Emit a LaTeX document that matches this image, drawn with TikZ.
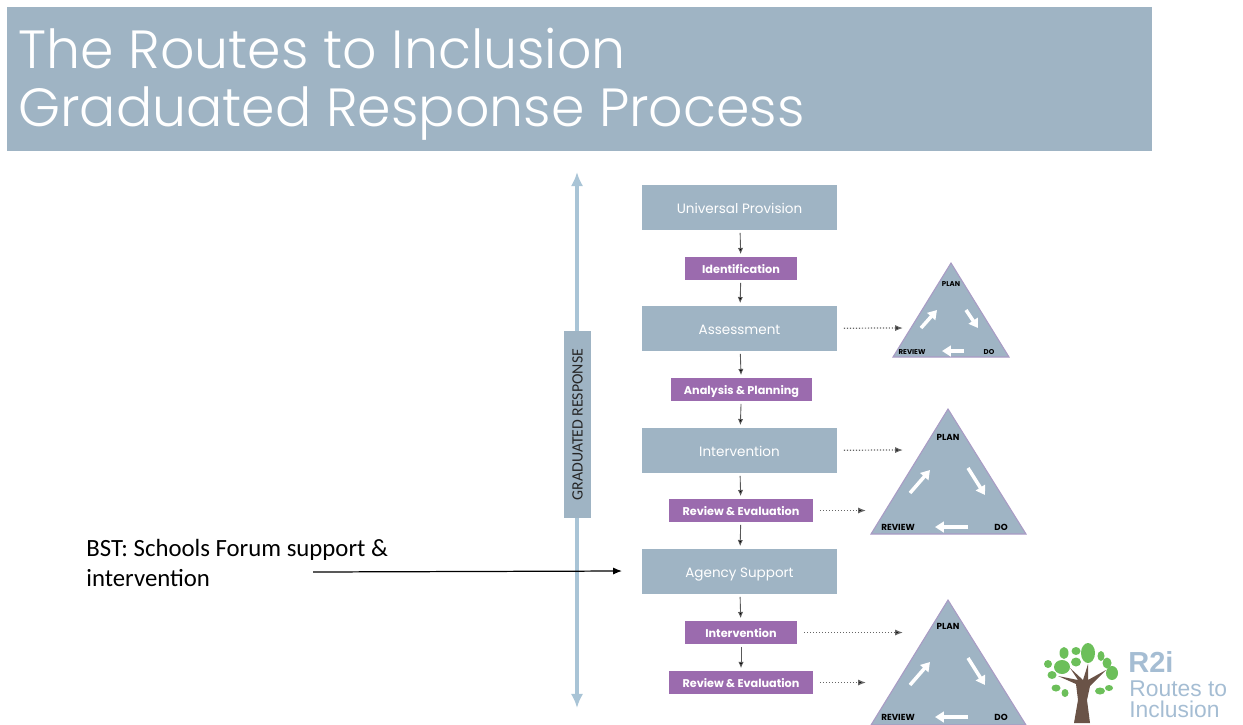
\documentclass[tikz,border=0pt]{standalone}
\usepackage{fontspec}
\setmainfont{Poppins}
\newfontfamily\titlefont{Poppins Light}
\newfontfamily\bstfont{Carlito}
\newfontfamily\logofont{Liberation Sans}
\usetikzlibrary{arrows.meta}
\definecolor{slate}{HTML}{9FB4C4}
\definecolor{axisblue}{HTML}{A9C4D6}
\definecolor{plum}{HTML}{9B6BAE}
\definecolor{lilac}{HTML}{A99BC4}
\definecolor{logoblue}{HTML}{A5BDD3}
\definecolor{bark}{HTML}{6A5347}
\definecolor{leaf}{HTML}{6CBF5A}
\tikzset{
  stagebox/.style={rectangle, fill=slate, text=white, minimum width=110.5pt, minimum height=25.5pt, inner sep=0pt, text height=7.4pt, text depth=1pt, font=\fontsize{7.7}{9}\selectfont},
  actionbox/.style={rectangle, fill=plum, text=white, minimum height=13pt, inner sep=0pt, text height=6.6pt, text depth=0.6pt, font=\bfseries\fontsize{6.4}{8}\selectfont},
  flow/.style={-{Latex[length=3.5pt,width=3pt]}, draw=black!65, line width=0.5pt, shorten >=1.5pt, shorten <=1.5pt},
  feed/.style={-{Latex[length=4.5pt,width=3.5pt]}, draw=black!60, densely dotted, line width=0.7pt, shorten <=4pt},
  tri/.style={fill=slate, draw=lilac, line width=0.6pt},
  turn/.style={-{Triangle[length=5pt,width=6pt]}, draw=white, line width=2pt},
  trilabel/.style={text=black, inner sep=0pt, font=\bfseries\fontsize{4}{5}\selectfont},
  trilabelbig/.style={text=black, inner sep=0pt, font=\bfseries\fontsize{5}{6}\selectfont},
  titleline/.style={anchor=base west, text=white, inner sep=0pt, font=\titlefont\fontsize{30.6}{33}\selectfont},
  leafy/.style={fill=leaf},
}
\begin{document}
\begin{tikzpicture}[x=0.02cm, y=-0.02cm]
\useasboundingbox (0,0) rectangle (1243,724);
% title
\node[rectangle, fill=slate, minimum width=22.9cm, minimum height=2.88cm, inner sep=0pt] (banner) at (579.5,79) {};
\node[titleline] (title1) at (18,68) {The Routes to Inclusion};
\node[titleline] (title2) at (18,126) {Graduated Response Process};
% axis
\coordinate (axistop) at (577,172);
\coordinate (axisbottom) at (577,708);
\draw[{Latex[length=8pt,width=7pt]}-{Latex[length=8pt,width=7pt]}, axisblue, line width=2.4pt] (axistop) -- (axisbottom);
\node[rectangle, fill=slate, minimum width=106pt, minimum height=15.3pt, inner sep=0pt, rotate=90, text=black!85, font=\bstfont\fontsize{9}{10}\selectfont] (graduated) at (577.5,424.5) {GRADUATED RESPONSE};
% boxes
\node[stagebox] (universal) at (739.5,207.5) {Universal Provision};
\node[actionbox, minimum width=63.5pt] (identification) at (741,268.5) {Identification};
\node[stagebox] (assessment) at (739.5,328.5) {Assessment};
\node[actionbox, minimum width=80pt] (analysis) at (741.5,389.5) {Analysis \& Planning};
\node[stagebox] (intervention) at (739.5,450.5) {Intervention};
\node[actionbox, minimum width=81.5pt] (review1) at (741,510.5) {Review \& Evaluation};
\node[stagebox] (agency) at (739.5,571.5) {Agency Support};
\node[actionbox, minimum width=63.5pt] (intervention2) at (741,632.5) {Intervention};
\node[actionbox, minimum width=81.5pt] (review2) at (741,682.5) {Review \& Evaluation};
\path [flow] (universal) edge (identification);
\path [flow] (identification) edge (assessment);
\path [flow] (assessment) edge (analysis);
\path [flow] (analysis) edge (intervention);
\path [flow] (intervention) edge (review1);
\path [flow] (review1) edge (agency);
\path [flow] (agency) edge (intervention2);
\path [flow] (intervention2) edge (review2);
% small triangle
\coordinate (planA) at (951,263);
\coordinate (doA) at (1009,357);
\coordinate (reviewA) at (893,357);
\draw[tri] (planA) -- (doA) -- (reviewA) -- cycle;
\node[trilabel] (planAtext) at (951,284) {PLAN};
\node[trilabel] (reviewAtext) at (912,352) {REVIEW};
\node[trilabel] (doAtext) at (989,352) {DO};
\coordinate (upAs) at (921,328); \coordinate (upAe) at (937,310);
\coordinate (downAs) at (966,310); \coordinate (downAe) at (978,328);
\coordinate (backAs) at (964,351); \coordinate (backAe) at (942,351);
\draw[turn] (upAs) -- (upAe);
\draw[turn] (downAs) -- (downAe);
\draw[turn] (backAs) -- (backAe);
% middle triangle
\coordinate (planB) at (948,409);
\coordinate (doB) at (1026,534);
\coordinate (reviewB) at (871,534);
\draw[tri] (planB) -- (doB) -- (reviewB) -- cycle;
\node[trilabelbig] (planBtext) at (948,437) {PLAN};
\node[trilabelbig] (reviewBtext) at (898,527) {REVIEW};
\node[trilabelbig] (doBtext) at (1001,527) {DO};
\coordinate (upBs) at (910,493); \coordinate (upBe) at (930,470);
\coordinate (downBs) at (968,468); \coordinate (downBe) at (985,495);
\coordinate (backBs) at (968,527); \coordinate (backBe) at (935,527);
\draw[turn] (upBs) -- (upBe);
\draw[turn] (downBs) -- (downBe);
\draw[turn] (backBs) -- (backBe);
% bottom triangle
\coordinate (planC) at (948,600);
\coordinate (doC) at (1026,725);
\coordinate (reviewC) at (871,725);
\draw[tri] (planC) -- (doC) -- (reviewC) -- cycle;
\node[trilabelbig] (planCtext) at (948,626) {PLAN};
\node[trilabelbig] (reviewCtext) at (898,717) {REVIEW};
\node[trilabelbig] (doCtext) at (1001,717) {DO};
\coordinate (upCs) at (910,685); \coordinate (upCe) at (930,662);
\coordinate (downCs) at (968,658); \coordinate (downCe) at (985,685);
\coordinate (backCs) at (968,717); \coordinate (backCe) at (935,717);
\draw[turn] (upCs) -- (upCe);
\draw[turn] (downCs) -- (downCe);
\draw[turn] (backCs) -- (backCe);
% dotted arrows
\coordinate (feedA) at (903,328);
\coordinate (feedB) at (903,450);
\coordinate (feedC) at (866,510.5);
\coordinate (feedD) at (903,632.5);
\coordinate (feedE) at (866,682.5);
\path [feed] (assessment) edge (feedA);
\path [feed] (intervention) edge (feedB);
\path [feed] (review1) edge (feedC);
\path [feed] (intervention2) edge (feedD);
\path [feed] (review2) edge (feedE);
% left note
\node[anchor=north west, align=left, inner sep=0pt, font=\bstfont\fontsize{14.1}{17}\selectfont] (bst) at (86,539) {BST: Schools Forum support \&\\intervention};
\coordinate (bststart) at (313,572);
\coordinate (bstend) at (622,571);
\draw[-{Latex[length=5pt,width=4pt]}, black, line width=0.7pt] (bststart) -- (bstend);
% logo
\fill[bark] (1074,723) -- (1078,700) -- (1076,684) -- (1058,676) -- (1078,680) -- (1070,668) -- (1083,680) -- (1088,664) -- (1088,680) -- (1106,670) -- (1090,686) -- (1087,700) -- (1090,723) -- cycle;
\fill[leafy] (1088,653) ellipse (7 and 10);
\fill[leafy] (1064,653) ellipse (4.5 and 6);
\fill[leafy] (1076,651) ellipse (4.5 and 4);
\fill[leafy] (1101,656) ellipse (3.5 and 5);
\fill[leafy] (1048,664) ellipse (4 and 4);
\fill[leafy] (1062,667) ellipse (8 and 7);
\fill[leafy] (1076,662) ellipse (5 and 4.5);
\fill[leafy] (1107,663) ellipse (4.5 and 5.5);
\fill[leafy] (1112,673) ellipse (6 and 7);
\fill[leafy] (1052,675) ellipse (4.5 and 4);
\fill[leafy] (1056,688) ellipse (4.5 and 3.5);
\fill[leafy] (1065,693) ellipse (3.5 and 4);
\fill[leafy] (1100,691) ellipse (5 and 3.5);
\fill[leafy] (1109,688) ellipse (4 and 3);
\node[anchor=base west, text=logoblue, inner sep=0pt, font=\logofont\bfseries\fontsize{16.5}{18}\selectfont] (logor2i) at (1128,672) {R2i};
\node[anchor=base west, text=logoblue, inner sep=0pt, font=\logofont\fontsize{13}{15}\selectfont] (logoroutes) at (1129,696) {Routes to};
\node[anchor=base west, text=logoblue, inner sep=0pt, font=\logofont\fontsize{13}{15}\selectfont] (logoinclusion) at (1129,717) {Inclusion};
\end{tikzpicture}
\end{document}
